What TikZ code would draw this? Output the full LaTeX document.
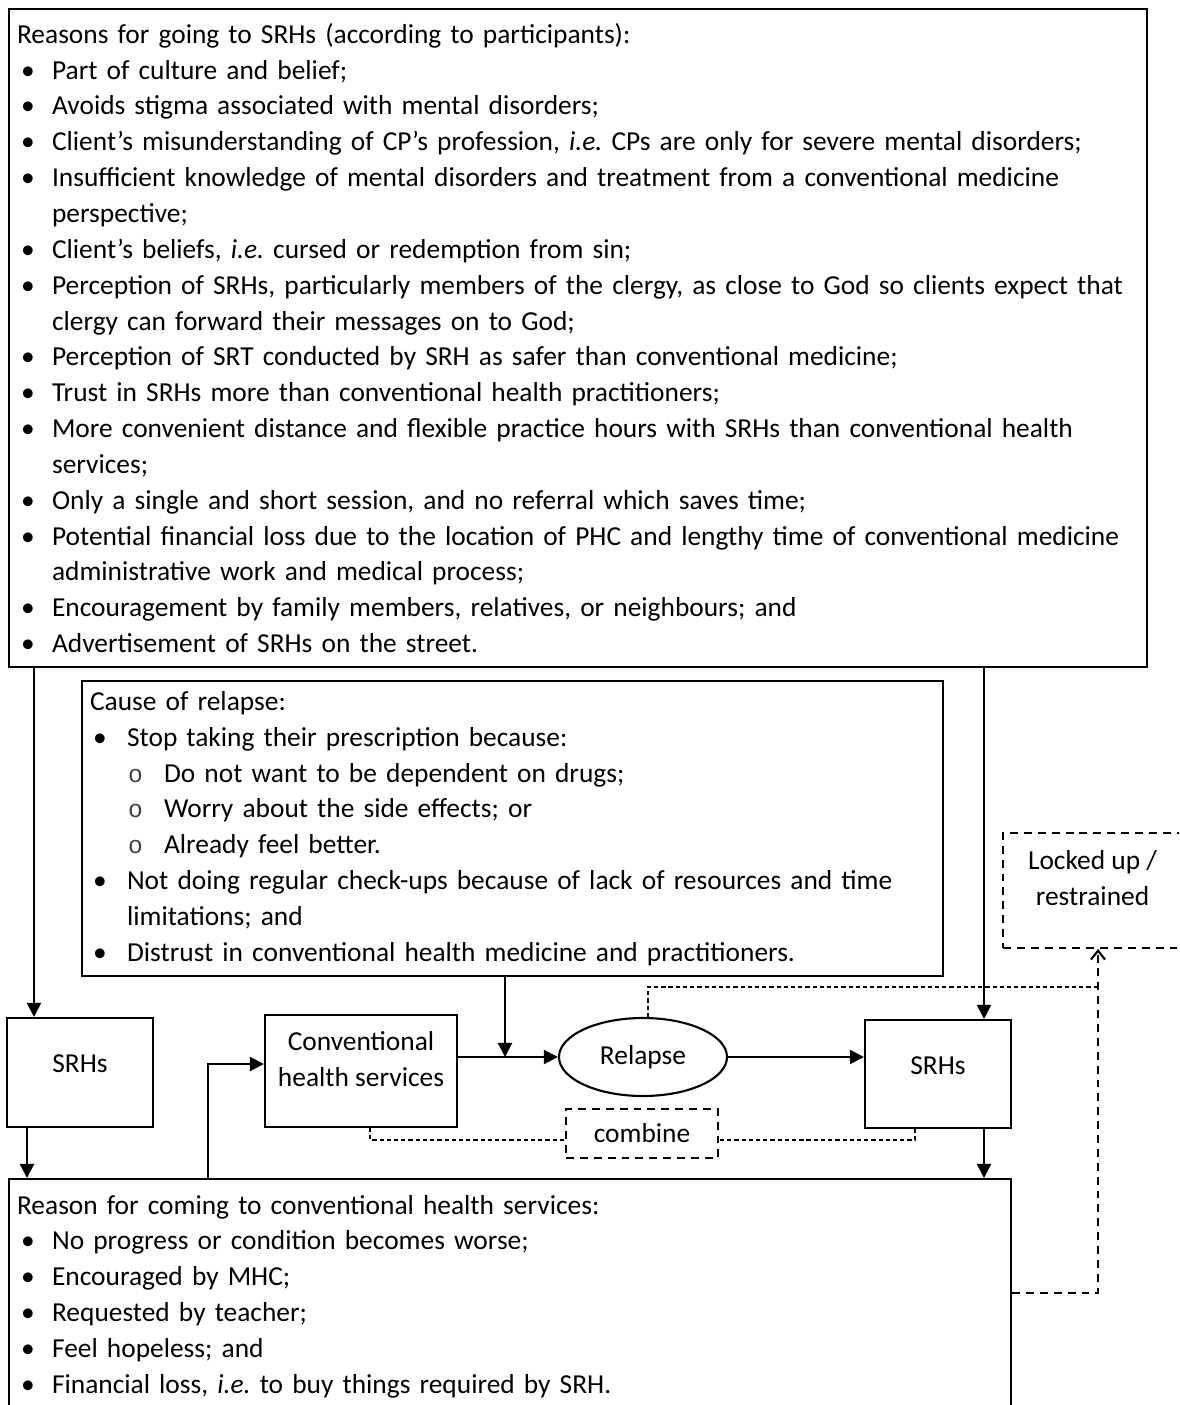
\documentclass[tikz,border=0pt]{standalone}
\usepackage{fontspec}
\setmainfont{Carlito}
\newfontfamily\monofont{Liberation Mono}
\usepackage{tikz}
\usetikzlibrary{shapes.geometric,arrows.meta,positioning,calc}

\newdimen\px \px=0.02cm
\newcommand{\bitem}[1]{\par\noindent\hangindent=35\px\hangafter=1\makebox[35\px][l]{\hspace{4\px}\textbullet}#1}
\newcommand{\citem}[1]{\par\noindent\hangindent=37\px\hangafter=1\makebox[37\px][l]{\hspace{3\px}\textbullet}#1}
\newcommand{\sitem}[1]{\par\noindent\hspace*{37\px}\makebox[37\px][l]{\hspace{1\px}{\monofont\fontsize{14pt}{14pt}\selectfont\color{black!75}o}}#1}

\begin{document}
\frenchspacing
\begin{tikzpicture}[
    x=0.02cm, y=-0.02cm,
    every node/.style={font=\fontsize{15.6pt}{20.4pt}\selectfont},
    listbox/.style={rectangle, draw=black, line width=1.2pt, anchor=north west, align=left, inner xsep=8\px, inner ysep=0pt},
    block/.style={rectangle, draw=black, line width=1.2pt, align=center, inner sep=0pt},
    dashbox/.style={block, dash pattern=on 4.5pt off 3.4pt},
    oval/.style={ellipse, draw=black, line width=1.2pt, inner sep=0pt},
    arrow/.style={line width=1.2pt, -{Triangle[length=8pt,width=8pt]}},
    link/.style={line width=0.6pt, dash pattern=on 2.4pt off 1.7pt},
    uplink/.style={line width=1.2pt, dash pattern=on 4.5pt off 3.4pt, -{Straight Barb[length=5pt,width=8pt]}}
]
    \useasboundingbox (0,0) rectangle (1179,1405);
    \clip (0,0) rectangle (1179,1405);

    % Nodes
    \node[listbox, text width=1122\px, minimum height=658\px] (reasons) at (8,8) {Reasons for going to SRHs (according to participants):
        \bitem{Part of culture and belief;}
        \bitem{Avoids stigma associated with mental disorders;}
        \bitem{Client’s misunderstanding of CP’s profession, \textit{i.e.} CPs are only for severe mental disorders;}
        \bitem{Insufficient knowledge of mental disorders and treatment from a conventional medicine\newline perspective;}
        \bitem{Client’s beliefs, \textit{i.e.} cursed or redemption from sin;}
        \bitem{Perception of SRHs, particularly members of the clergy, as close to God so clients expect that\newline clergy can forward their messages on to God;}
        \bitem{Perception of SRT conducted by SRH as safer than conventional medicine;}
        \bitem{Trust in SRHs more than conventional health practitioners;}
        \bitem{More convenient distance and flexible practice hours with SRHs than conventional health\newline services;}
        \bitem{Only a single and short session, and no referral which saves time;}
        \bitem{Potential financial loss due to the location of PHC and lengthy time of conventional medicine\newline administrative work and medical process;}
        \bitem{Encouragement by family members, relatives, or neighbours; and}
        \bitem{Advertisement of SRHs on the street.}};
    \node[listbox, text width=845\px, minimum height=295\px] (cause) at (81,680) {Cause of relapse:
        \citem{Stop taking their prescription because:}
        \sitem{Do not want to be dependent on drugs;}
        \sitem{Worry about the side effects; or}
        \sitem{Already feel better.}
        \citem{Not doing regular check-ups because of lack of resources and time\newline limitations; and}
        \citem{Distrust in conventional health medicine and practitioners.}};
    \node[block, minimum width=146\px, minimum height=109\px, text height=8pt, text depth=8pt] (srhsA) at (80,1072.5) {SRHs};
    \node[block, minimum width=192\px, minimum height=112\px, text height=56\px, text depth=26\px] (conv) at (361,1071) {Conventional\\health services};
    \node[oval, minimum width=168\px, minimum height=78\px] (relapse) at (643,1057) {Relapse};
    \node[block, minimum width=146\px, minimum height=108\px, text height=8pt, text depth=8pt] (srhsB) at (938,1074) {SRHs};
    \node[dashbox, minimum width=152\px, minimum height=49\px] (combine) at (642,1133.5) {combine};
    \node[dashbox, minimum width=179\px, minimum height=115\px, text height=56\px, text depth=27\px] (locked) at (1092.5,890.5) {Locked up /\\restrained};
    \node[listbox, text width=986\px, minimum height=235\px] (needs) at (8,1178) {Reason for coming to conventional health services:
        \bitem{No progress or condition becomes worse;}
        \bitem{Encouraged by MHC;}
        \bitem{Requested by teacher;}
        \bitem{Feel hopeless; and}
        \bitem{Financial loss, \textit{i.e.} to buy things required by SRH.}};

    % Arrows
    \draw[arrow] (reasons.south -| 34,0) -- (srhsA.north -| 34,0);
    \draw[arrow] (reasons.south -| 984,0) -- (srhsB.north -| 984,0);
    \draw[arrow] (srhsA.south -| 27,0) -- (needs.north -| 27,0);
    \draw[arrow] (srhsB.south -| 984,0) -- (needs.north -| 984,0);
    \draw[arrow] (needs.north -| 208,0) |- (conv.west |- 0,1064);
    \draw[arrow] (conv.east |- relapse.west) -- (relapse.west);
    \draw[arrow] (cause.south -| 505,0) -- (relapse.west -| 505,0);
    \draw[arrow] (relapse.east) -- (relapse.east -| srhsB.west);

    % Links
    \coordinate (merge) at (1098,987);
    \draw[link] (conv.south -| 370,0) |- (combine.west |- 0,1140);
    \draw[link] (srhsB.south -| 915,0) |- (combine.east |- 0,1140);
    \draw[link] (relapse.north -| 648,0) |- (merge);
    \draw[uplink] (needs.east |- 0,1293) -| (locked.south -| 1098,0);

\end{tikzpicture}
\end{document}
